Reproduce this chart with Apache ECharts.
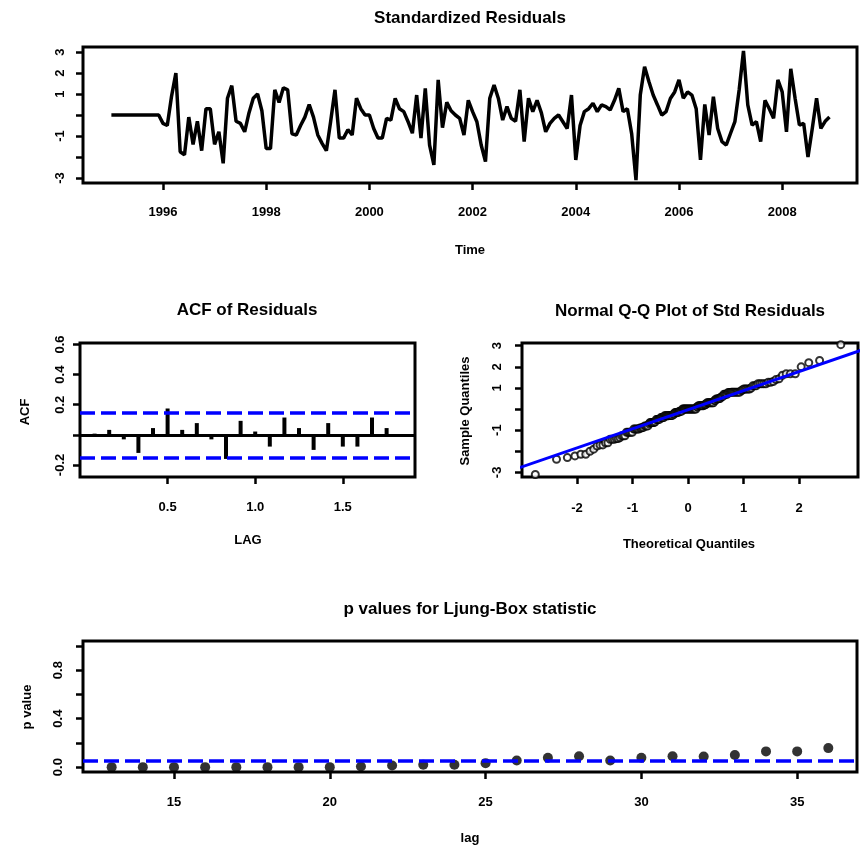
<!DOCTYPE html>
<html><head><meta charset="utf-8">
<script src="https://cdn.jsdelivr.net/npm/echarts@6/dist/echarts.min.js"></script>
<style>html,body{margin:0;padding:0;background:#fff}#c{width:862px;height:847px}</style>
</head><body><div id="c"></div>
<script>
// ---------------- data ----------------
const startYear = 1995; // monthly series starting Jan 1995
const residuals = [
  0,0,0,0,0,0,0,0,0,0,0,0,
  -0.4,-0.5,0.9,2.0,-1.75,-1.9,-0.1,-1.4,-0.3,-1.7,
  0.3,0.3,-1.4,-0.8,-2.3,0.8,1.4,-0.3,-0.4,-0.8,
  0.1,0.8,1.0,0.2,-1.6,-1.6,1.2,0.6,1.3,1.2,
  -0.9,-0.95,-0.5,-0.1,0.5,-0.1,-0.95,-1.35,-1.7,-0.3,1.2,-1.1,-1.1,-0.7,
  -0.95,0.8,0.3,0.0,0.0,-0.64,-1.1,-1.1,-0.16,-0.24,
  0.79,0.3,0.16,-0.32,-0.87,0.95,-1.1,1.27,-1.43,-2.38,
  1.67,-0.6,0.6,0.2,0.0,-0.16,-0.95,0.7,0.16,-0.32,
  -1.43,-2.22,0.8,1.43,0.79,-0.24,0.4,-0.16,-0.3,1.2,
  -1.27,0.8,0.16,0.7,0.1,-0.8,-0.4,-0.16,0.0,-0.32,
  -0.64,0.95,-2.14,-0.5,0.16,0.3,
  0.56,0.16,0.48,0.4,0.24,0.7,1.27,0.16,0.3,-0.9,
  -3.1,0.95,2.3,1.6,0.95,0.48,0.0,0.16,0.79,1.1,
  1.67,0.8,1.1,0.95,0.3,-2.14,0.5,-0.95,0.87,-0.64,
  -1.27,-1.43,-0.87,-0.32,1.2,3.05,0.48,-0.48,-0.32,-1.27,
  0.7,0.3,-0.16,1.67,1.1,-0.8,2.2,0.8,-0.48,-0.4,
  -2.0,-0.64,0.8,-0.64,-0.3,-0.1
];
const yearTicks = [1996, 1998, 2000, 2002, 2004, 2006, 2008];
const residYTicks = [-3, -2, -1, 0, 1, 2, 3];
const residYLabels = [-3, -1, 1, 2, 3];

const acfLagMonths = [1,2,3,4,5,6,7,8,9,10,11,12,13,14,15,16,17,18,19,20,21,22];
const acfValues = [0.008,0.033,-0.03,-0.12,0.045,0.175,0.033,0.078,-0.03,-0.16,0.093,0.022,
                   -0.078,0.115,0.045,-0.1,0.078,-0.078,-0.078,0.115,0.045,0.005];
const acfBound = 0.15;
const acfXTicks = [0.5, 1.0, 1.5];
const acfYTicks = [-0.2, 0, 0.2, 0.4, 0.6];
const acfYLabels = [-0.2, 0.2, 0.4, 0.6];

const qqXTicks = [-2, -1, 0, 1, 2];
const qqYTicks = [-3, -2, -1, 0, 1, 2, 3];
const qqYLabels = [-3, -1, 1, 2, 3];
const qqIntercept = -0.03;
const qqSlope = 0.905;

const lbLags = [13,14,15,16,17,18,19,20,21,22,23,24,25,26,27,28,29,30,31,32,33,34,35,36];
const lbPValues = [0,0,0,0,0,0,0,0,0.005,0.014,0.02,0.02,0.033,0.055,0.077,0.09,
                   0.055,0.077,0.09,0.088,0.10,0.13,0.13,0.157];
const lbLevel = 0.05;
const lbXTicks = [15, 20, 25, 30, 35];
const lbYTicks = [0, 0.2, 0.4, 0.6, 0.8, 1.0];
const lbYLabels = [0, 0.4, 0.8];

// ---------------- helpers ----------------
function qnorm(p) {
  const a = [-3.969683028665376e+01, 2.209460984245205e+02, -2.759285104469687e+02, 1.383577518672690e+02, -3.066479806614716e+01, 2.506628277459239e+00];
  const b = [-5.447609879822406e+01, 1.615858368580409e+02, -1.556989798598866e+02, 6.680131188771972e+01, -1.328068155288572e+01];
  const c = [-7.784894002430293e-03, -3.223964580411365e-01, -2.400758277161838e+00, -2.549732539343734e+00, 4.374664141464968e+00, 2.938163982698783e+00];
  const d = [7.784695709041462e-03, 3.224671290700398e-01, 2.445134137142996e+00, 3.754408661907416e+00];
  const pl = 0.02425, ph = 1 - pl;
  let q, r;
  if (p < pl) { q = Math.sqrt(-2*Math.log(p)); return (((((c[0]*q+c[1])*q+c[2])*q+c[3])*q+c[4])*q+c[5])/((((d[0]*q+d[1])*q+d[2])*q+d[3])*q+1); }
  if (p <= ph) { q = p - 0.5; r = q*q; return (((((a[0]*r+a[1])*r+a[2])*r+a[3])*r+a[4])*r+a[5])*q/(((((b[0]*r+b[1])*r+b[2])*r+b[3])*r+b[4])*r+1); }
  q = Math.sqrt(-2*Math.log(1-p)); return -(((((c[0]*q+c[1])*q+c[2])*q+c[3])*q+c[4])*q+c[5])/((((d[0]*q+d[1])*q+d[2])*q+d[3])*q+1);
}

const FONT = "'Liberation Sans', Arial, sans-serif";
const residSeries = residuals.map((v, i) => [startYear + i / 12, v]);
const acfSeries = acfLagMonths.map((m, i) => [m / 12, acfValues[i]]);
const sorted = residuals.slice().sort((x, y) => x - y);
const nRes = sorted.length;
const qqPoints = sorted.map((v, i) => [qnorm((i + 1 - 0.5) / nRes), v]);
const qqLine = [-4, 4].map(x => [x, qqIntercept + qqSlope * x]);
const lbSeries = lbLags.map((l, i) => [l, lbPValues[i]]);

function tick(vals) { return { show: true, customValues: vals, length: 7, lineStyle: { color: '#000', width: 2.5 } }; }
function lab(vals, opts) {
  return Object.assign({ show: true, customValues: vals, color: '#000', fontFamily: FONT, fontSize: 13, fontWeight: 'bold' }, opts);
}
const noLine = { show: false, onZero: false };
const blueDash = { color: '#0000ff', width: 3.5, type: [15, 6] };
const gridStyle = { show: true, borderColor: '#000', borderWidth: 3, backgroundColor: 'transparent' };

function txt(text, x, y, size, rot) {
  return { type: 'text', x: x, y: y, rotation: rot || 0,
    style: { text: text, fill: '#000', font: 'bold ' + size + 'px ' + FONT,
      textAlign: 'center', textVerticalAlign: 'middle', align: 'center', verticalAlign: 'middle' } };
}

const option = {
  animation: false,
  backgroundColor: '#fff',
  grid: [
    Object.assign({ left: 83, top: 47, width: 774, height: 136 }, gridStyle),
    Object.assign({ left: 80, top: 343, width: 335, height: 134 }, gridStyle),
    Object.assign({ left: 522, top: 343, width: 336, height: 134 }, gridStyle),
    Object.assign({ left: 83, top: 641, width: 774, height: 131 }, gridStyle)
  ],
  xAxis: [
    { gridIndex: 0, type: 'value', min: 1994.45, max: 2009.45, axisLine: noLine, splitLine: { show: false },
      axisTick: tick(yearTicks), axisLabel: lab(yearTicks, { margin: 23, formatter: v => String(Math.round(v)) }) },
    { gridIndex: 1, type: 'value', min: 0, max: 1.912, axisLine: noLine, splitLine: { show: false },
      axisTick: tick(acfXTicks), axisLabel: lab(acfXTicks, { margin: 24, formatter: v => v.toFixed(1) }) },
    { gridIndex: 2, type: 'value', min: -2.99, max: 3.06, axisLine: noLine, splitLine: { show: false },
      axisTick: tick(qqXTicks), axisLabel: lab(qqXTicks, { margin: 25, formatter: v => String(Math.round(v)) }) },
    { gridIndex: 3, type: 'value', min: 12.08, max: 36.92, axisLine: noLine, splitLine: { show: false },
      axisTick: tick(lbXTicks), axisLabel: lab(lbXTicks, { margin: 24, formatter: v => String(Math.round(v)) }) }
  ],
  yAxis: [
    { gridIndex: 0, type: 'value', min: -3.24, max: 3.24, axisLine: noLine, splitLine: { show: false },
      axisTick: tick(residYTicks), axisLabel: lab(residYLabels, { rotate: 90, margin: 16, formatter: v => String(Math.round(v)) }) },
    { gridIndex: 1, type: 'value', min: -0.28, max: 0.61, axisLine: noLine, splitLine: { show: false },
      axisTick: tick(acfYTicks), axisLabel: lab(acfYLabels, { rotate: 90, margin: 13, formatter: v => v.toFixed(1) }) },
    { gridIndex: 2, type: 'value', min: -3.22, max: 3.13, axisLine: noLine, splitLine: { show: false },
      axisTick: tick(qqYTicks), axisLabel: lab(qqYLabels, { rotate: 90, margin: 18, formatter: v => String(Math.round(v)) }) },
    { gridIndex: 3, type: 'value', min: -0.04, max: 1.04, axisLine: noLine, splitLine: { show: false },
      axisTick: tick(lbYTicks), axisLabel: lab(lbYLabels, { rotate: 90, margin: 18, formatter: v => v.toFixed(1) }) }
  ],
  series: [
    { type: 'line', xAxisIndex: 0, yAxisIndex: 0, data: residSeries, showSymbol: false, clip: true,
      lineStyle: { color: '#000', width: 3.5 }, itemStyle: { color: '#000' } },
    { type: 'bar', xAxisIndex: 1, yAxisIndex: 1, data: acfSeries, barWidth: 4, itemStyle: { color: '#000' },
      markLine: { silent: true, symbol: ['none', 'none'], label: { show: false },
        data: [
          { yAxis: 0, lineStyle: { color: '#000', width: 3, type: 'solid' } },
          { yAxis: acfBound, lineStyle: blueDash },
          { yAxis: -acfBound, lineStyle: blueDash }
        ] } },
    { type: 'scatter', xAxisIndex: 2, yAxisIndex: 2, data: qqPoints, symbol: 'emptyCircle', symbolSize: 7,
      itemStyle: { color: '#000', borderColor: '#000', borderWidth: 2.5 } },
    { type: 'line', xAxisIndex: 2, yAxisIndex: 2, data: qqLine, showSymbol: false, clip: true, z: 5,
      lineStyle: { color: '#0000ff', width: 3 } },
    { type: 'scatter', xAxisIndex: 3, yAxisIndex: 3, data: lbSeries, symbol: 'circle', symbolSize: 10,
      itemStyle: { color: '#000' },
      markLine: { silent: true, symbol: ['none', 'none'], label: { show: false },
        data: [{ yAxis: lbLevel, lineStyle: blueDash }] } }
  ],
  graphic: [
    txt('Standardized Residuals', 470, 18, 17),
    txt('Time', 470, 250, 13),
    txt('ACF of Residuals', 247, 310, 17),
    txt('LAG', 248, 540, 13),
    txt('ACF', 25, 412, 13, Math.PI / 2),
    txt('Normal Q-Q Plot of Std Residuals', 690, 311, 17),
    txt('Theoretical Quantiles', 689, 544, 13),
    txt('Sample Quantiles', 465, 411, 13, Math.PI / 2),
    txt('p values for Ljung-Box statistic', 470, 609, 17),
    txt('lag', 470, 838, 13),
    txt('p value', 27, 707, 13, Math.PI / 2)
  ]
};
const chart = echarts.init(document.getElementById('c'), null, { renderer: 'canvas' });
chart.setOption(option);
</script>
</body></html>
